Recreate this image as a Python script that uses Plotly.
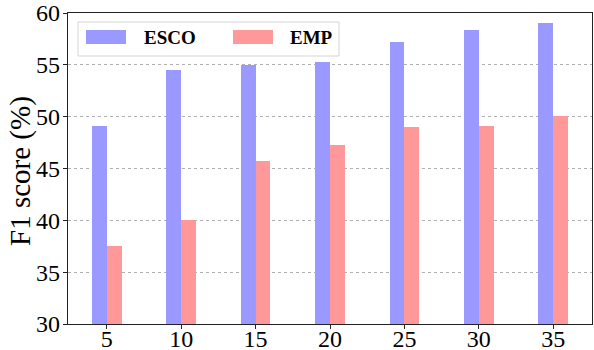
import plotly.graph_objects as go

categories = [5, 10, 15, 20, 25, 30, 35]
esco = [49.1, 54.5, 55.0, 55.3, 57.2, 58.4, 59.0]
emp = [37.5, 40.0, 45.7, 47.3, 49.0, 49.1, 50.1]
series_names = ["ESCO", "EMP"]
colors = ["#9999FF", "#FF9999"]
y_ticks = [30, 35, 40, 45, 50, 55, 60]
y_title = "F1 score (%)"

fig = go.Figure()
fig.add_trace(go.Bar(x=categories, y=esco, name=series_names[0], width=1, offset=-1,
                     marker=dict(color=colors[0], line=dict(width=0)), base=0))
fig.add_trace(go.Bar(x=categories, y=emp, name=series_names[1], width=1, offset=0,
                     marker=dict(color=colors[1], line=dict(width=0)), base=0))

W, H = 594, 350
ml, mr, mt, mb = 68, 2, 13, 26
pw, ph = W - ml - mr, H - mt - mb

def px(x):
    return (x - ml) / pw

def py(y):
    return 1 - (y - mt) / ph

shapes = []
annotations = []
# custom legend box
shapes.append(dict(type="rect", xref="paper", yref="paper",
                   x0=px(78), x1=px(339), y0=py(56), y1=py(22),
                   line=dict(color="#d5d5d5", width=1), fillcolor="rgba(255,255,255,0.85)"))
legend_items = [(86, 142), (233, 288)]
for (sx, tx), name, c in zip(legend_items, series_names, colors):
    shapes.append(dict(type="rect", xref="paper", yref="paper",
                       x0=px(sx), x1=px(sx + 40), y0=py(44), y1=py(30),
                       line=dict(width=0), fillcolor=c))
    annotations.append(dict(xref="paper", yref="paper", x=px(tx), y=py(37),
                            xanchor="left", yanchor="middle", text="<b>%s</b>" % name,
                            showarrow=False,
                            font=dict(family="Liberation Serif", size=19, color="black")))
# y-axis title
annotations.append(dict(xref="paper", yref="paper", x=px(20), y=py(171),
                        xanchor="center", yanchor="middle", text=y_title, textangle=-90,
                        showarrow=False,
                        font=dict(family="Liberation Serif", size=29, color="black")))

fig.update_layout(
    width=W, height=H,
    margin=dict(l=ml, r=mr, t=mt, b=mb),
    paper_bgcolor="white", plot_bgcolor="white",
    showlegend=False,
    bargap=0,
    font=dict(family="Liberation Serif", color="black"),
    shapes=shapes,
    annotations=annotations,
    xaxis=dict(range=[2.4, 37.6], tickvals=categories, ticktext=[str(c) for c in categories],
               automargin=False,
               showgrid=False, zeroline=False, showline=True, linecolor="#222", linewidth=1.3,
               mirror=True, ticks="outside", ticklen=4, tickcolor="#222",
               ticklabelstandoff=-11,
               tickfont=dict(size=24, family="Liberation Serif")),
    yaxis=dict(range=[30, 60], tickvals=y_ticks, showgrid=True, gridcolor="#b0b0b0",
               automargin=False,
               griddash="dot", gridwidth=1, zeroline=False, showline=True, linecolor="#222",
               linewidth=1.3, mirror=True, ticks="outside", ticklen=4, tickcolor="#222",
               ticklabelstandoff=-2,
               tickfont=dict(size=24, family="Liberation Serif")),
)

fig.write_html("out.html", config={"displayModeBar": False},
               post_script="document.body.style.margin='0';document.body.style.overflow='hidden';")
